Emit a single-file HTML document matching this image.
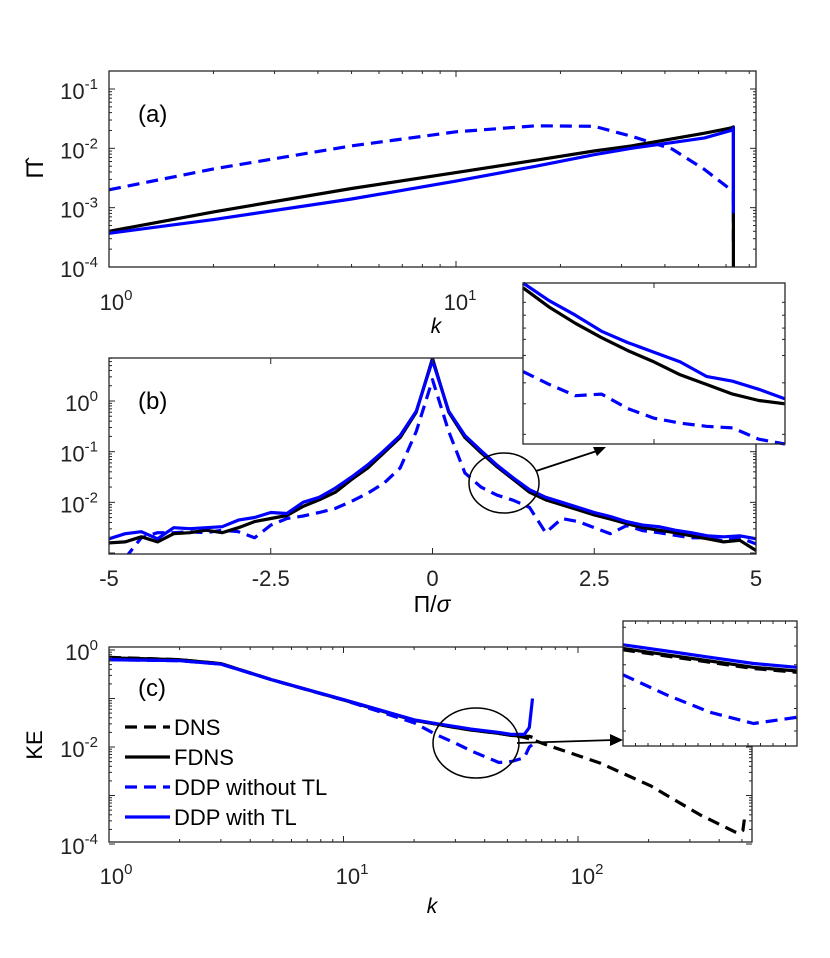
<!DOCTYPE html>
<html><head><meta charset="utf-8"><style>
html,body{margin:0;padding:0;background:#fff;}
svg{display:block;}
text{font-family:"Liberation Sans",sans-serif;}
</style></head><body>
<svg id="fig" width="830" height="958" viewBox="0 0 830 958" xmlns="http://www.w3.org/2000/svg"></svg>
<script>
// ===== Panel (a) data =====
const aK = [1, 2, 5, 10, 17, 25, 32, 42, 52, 62, 63];
const aFDNS = [4e-4, 8.5e-4, 2.1e-3, 3.9e-3, 6.3e-3, 9e-3, 1.1e-2, 1.45e-2, 1.8e-2, 2.2e-2, 2.3e-2];
const aDDPTL = [3.7e-4, 6.3e-4, 1.4e-3, 2.8e-3, 5e-3, 7.8e-3, 1e-2, 1.25e-2, 1.5e-2, 2e-2, 2.2e-2];
const aDDPnoTL = [2e-3, 4.5e-3, 1.1e-2, 1.9e-2, 2.4e-2, 2.35e-2, 1.6e-2, 9.7e-3, 4.4e-3, 2e-3, 1.8e-3];
const aDropK = 63;
const aDropFDNS = 1e-5, aDropTL = 8e-4, aDropNoTL = 2.5e-4;
// ===== Panel (b) data (log10 PDF) =====
const bX = [-5,-4.75,-4.5,-4.25,-4,-3.75,-3.5,-3.25,-3,-2.75,-2.5,-2.25,-2,-1.75,-1.5,-1.25,-1,-0.75,-0.5,-0.25,0,0.25,0.5,0.75,1,1.25,1.5,1.75,2,2.25,2.5,2.75,3,3.25,3.5,3.75,4,4.25,4.5,4.75,5];
const bFDNS = [-2.8,-2.78,-2.68,-2.78,-2.62,-2.6,-2.55,-2.6,-2.5,-2.38,-2.32,-2.26,-2.08,-1.95,-1.8,-1.55,-1.32,-1.02,-0.72,-0.22,0.84,-0.22,-0.72,-1.02,-1.3,-1.55,-1.8,-1.95,-2.05,-2.15,-2.25,-2.33,-2.42,-2.5,-2.55,-2.6,-2.66,-2.72,-2.78,-2.75,-2.95];
const bTL = [-2.72,-2.62,-2.58,-2.72,-2.5,-2.52,-2.5,-2.48,-2.35,-2.3,-2.2,-2.22,-2.0,-1.9,-1.72,-1.5,-1.26,-0.98,-0.68,-0.2,0.8,-0.2,-0.68,-0.98,-1.27,-1.52,-1.75,-1.9,-2.0,-2.1,-2.2,-2.28,-2.38,-2.45,-2.48,-2.55,-2.6,-2.66,-2.68,-2.66,-2.72];
const bNoTL = [-3.3,-3.1,-2.7,-2.6,-2.6,-2.58,-2.6,-2.55,-2.58,-2.7,-2.45,-2.32,-2.27,-2.2,-2.12,-1.98,-1.82,-1.62,-1.32,-0.6,0.42,-0.6,-1.42,-1.7,-1.86,-1.96,-2.1,-2.6,-2.32,-2.38,-2.5,-2.62,-2.46,-2.56,-2.6,-2.65,-2.7,-2.7,-2.76,-2.7,-2.82];
const bXTicks = [-5,-2.5,0,2.5,5];
const bXTickLabels = ["-5","-2.5","0","2.5","5"];
// inset (b)
const biX = [0,0.1,0.2,0.3,0.4,0.5,0.6,0.7,0.8,0.9,1];
const biTL = [0,0.11,0.2,0.3,0.37,0.43,0.49,0.58,0.61,0.66,0.72];
const biFDNS = [0.03,0.15,0.25,0.34,0.42,0.49,0.57,0.63,0.69,0.73,0.75];
const biNoTL = [0.55,0.63,0.7,0.69,0.78,0.84,0.87,0.89,0.9,0.97,1.0];
// ===== Panel (c) data =====
const cK = [1,2,3,5,10,20,25,30,35,46,52,59,62,64];
const cDNS = [-0.15,-0.2,-0.28,-0.62,-1.03,-1.45,-1.53,-1.6,-1.65,-1.72,-1.76,-1.8,-1.83,-1.85];
const cFDNS = [-0.16,-0.2,-0.28,-0.62,-1.03,-1.45,-1.53,-1.6,-1.65,-1.72,-1.76,-1.78,-1.78,-1.8];
const cTL = [-0.2,-0.22,-0.29,-0.62,-1.02,-1.44,-1.52,-1.58,-1.63,-1.7,-1.74,-1.74,-1.6,-1.0];
const cNoTL = [-0.2,-0.22,-0.29,-0.62,-1.03,-1.5,-1.75,-1.92,-2.08,-2.32,-2.3,-2.22,-2.0,-1.95];
const cDNSTailK = [64,78,124,204,332,467,490,505,512,515];
const cDNSTail = [-1.85,-2.0,-2.33,-2.8,-3.4,-3.75,-3.78,-3.72,-3.5,-3.35];
const ciX = [0,0.25,0.5,0.75,1];
const ciTL = [0.19,0.24,0.29,0.34,0.37];
const ciFDNS = [0.22,0.27,0.32,0.37,0.4];
const ciDNS = [0.23,0.28,0.33,0.38,0.41];
const ciNoTL = [0.43,0.59,0.73,0.82,0.77];
const legendLabels = ["DNS","FDNS","DDP without TL","DDP with TL"];

const NS="http://www.w3.org/2000/svg";
const svg=document.getElementById('fig');
function el(tag,attrs,parent){const e=document.createElementNS(NS,tag);for(const k in attrs)e.setAttribute(k,attrs[k]);(parent||svg).appendChild(e);return e;}
const BLUE="#0000ff";
function logScale(d0,d1,p0,p1){return v=>p0+(Math.log10(v)-d0)/(d1-d0)*(p1-p0);}
function linScale(d0,d1,p0,p1){return v=>p0+(v-d0)/(d1-d0)*(p1-p0);}
function pathD(xs,ys,fx,fy){return xs.map((x,i)=>(i?'L':'M')+fx(x).toFixed(1)+' '+fy(ys[i]).toFixed(1)).join(' ');}
function line(d,color,dash,name,parent){
  const p=el('path',{d:d,fill:'none',stroke:color,'stroke-width':3.2,'stroke-dasharray':dash?'12 7':'none','stroke-linejoin':'round'},parent);
  
  
  return p;
}
function supLabel(x,y,base,exp,anchor,name){
  const t=el('text',{x:x,y:y,'font-size':22,'text-anchor':anchor||'middle',fill:'#222'});
  
  
  const a=el('tspan',{},t);a.textContent=base;
  const b=el('tspan',{dy:-10,'font-size':15},t);b.textContent=exp;
  return t;
}
function box(x0,y0,x1,y1,name){
  const r=el('rect',{x:x0,y:y0,width:x1-x0,height:y1-y0,fill:'none',stroke:'#262626','stroke-width':1.3});
  
  
}
function tick(x1,y1,x2,y2){const t=el('line',{x1:x1,y1:y1,x2:x2,y2:y2,stroke:'#262626','stroke-width':1});}
function logYTicks(fy,lo,hi,x0,x1){
  for(let d=lo;d<hi;d++){for(let m=1;m<10;m++){const v=m*Math.pow(10,d);const y=fy(v);const L=m===1?6:3;tick(x0,y,x0+L,y);tick(x1,y,x1-L,y);}}
  const y=fy(Math.pow(10,hi));tick(x0,y,x0+6,y);tick(x1,y,x1-6,y);
}
function logXTicks(fx,lo,hi,xmax,y0,y1){
  for(let d=lo;d<=hi;d++){for(let m=1;m<10;m++){const v=m*Math.pow(10,d);const x=fx(v);if(x>xmax+0.5)break;const L=m===1?6:3;tick(x,y1,x,y1-L);tick(x,y0,x,y0+L);}}
}

// ===== Panel (a) =====
const aX0=109,aX1=756,aY0=71,aY1=267;
const ax=logScale(0,1,109,456), ay=logScale(-4,-1,267,89);
const gA=el('g',{});
logYTicks(ay,-4,-1,aX0,aX1);
logXTicks(ax,0,1,aX1,aY0,aY1);
line(pathD(aK,aDDPnoTL,ax,ay)+' L'+ax(aDropK).toFixed(1)+' '+ay(aDropNoTL).toFixed(1),BLUE,true,'a-ddp-without-tl-line',gA);
line(pathD(aK,aFDNS,ax,ay)+' L'+ax(aDropK).toFixed(1)+' '+aY1,'#000',false,'a-fdns-line',gA);
line(pathD(aK,aDDPTL,ax,ay)+' L'+ax(aDropK).toFixed(1)+' '+ay(aDropTL).toFixed(1),BLUE,false,'a-ddp-with-tl-line',gA);
box(aX0,aY0,aX1,aY1,'a-plot-frame');
['-1','-2','-3','-4'].forEach((e,i)=>supLabel(98,ay(Math.pow(10,-1-i))+10,'10',e,'end','a-y-tick-label'));
supLabel(116,310,'10','0','middle','a-x-tick-label');
supLabel(460,310,'10','1','middle','a-x-tick-label');
{const t=el('text',{x:436,y:333,'font-size':21,'font-family':'Liberation Serif','font-style':'italic','text-anchor':'middle'});t.textContent='k';}
{const t=el('text',{x:0,y:0,'font-size':24,'font-family':'Liberation Serif','text-anchor':'middle',transform:'translate(43,170) rotate(-90)'});t.textContent='Π̂';}
{const t=el('text',{x:138,y:122,'font-size':24});t.textContent='(a)';}

// ===== Panel (b) =====
const bX0=109,bX1=756,bY0=358,bY1=554;
const bx=linScale(-5,5,bX0,bX1), byl=linScale(-3,0,553,401);
const gB=el('g',{});
for(let d=-3;d<1;d++){for(let m=1;m<10;m++){const v=d+Math.log10(m);const y=byl(v);if(y<bY0)break;const L=m===1?6:3;tick(bX0,y,bX0+L,y);tick(bX1,y,bX1-L,y);}}
bXTicks.forEach(v=>{tick(bx(v),bY1,bx(v),bY1-6);tick(bx(v),bY0,bx(v),bY0+6);});
const clipB=el('clipPath',{id:'clipB'});el('rect',{x:bX0,y:bY0,width:bX1-bX0,height:bY1-bY0},clipB);
const gBc=el('g',{'clip-path':'url(#clipB)'},gB);
line(pathD(bX,bNoTL,bx,byl),BLUE,true,'b-ddp-without-tl-line',gBc);
line(pathD(bX,bFDNS,bx,byl),'#000',false,'b-fdns-line',gBc);
line(pathD(bX,bTL,bx,byl),BLUE,false,'b-ddp-with-tl-line',gBc);
box(bX0,bY0,bX1,bY1,'b-plot-frame');
supLabel(98,byl(0)+10,'10','0','end','b-y-tick-label');
supLabel(98,byl(-1)+10,'10','-1','end','b-y-tick-label');
supLabel(98,byl(-2)+10,'10','-2','end','b-y-tick-label');
bXTicks.forEach((v,i)=>{const t=el('text',{x:bx(v),y:586,'font-size':22,'text-anchor':'middle',fill:'#222'});t.textContent=bXTickLabels[i];});
{const t=el('text',{x:432,y:612,'font-size':23,'font-family':'Liberation Serif','text-anchor':'middle'});t.innerHTML='Π/<tspan font-style="italic">σ</tspan>';}
{const t=el('text',{x:138,y:409,'font-size':24});t.textContent='(b)';}
{const e=el('ellipse',{cx:504,cy:483,rx:35,ry:30,fill:'none',stroke:'#000','stroke-width':1.5});}
{const a=el('path',{d:'M536 471 L600 450',stroke:'#000','stroke-width':1.8,fill:'none'});
 const h=el('path',{d:'M606 447 L593 447 L597 456 Z',fill:'#000'});}
const biX0=523,biX1=785,biY0=283,biY1=444;
{const r=el('rect',{x:biX0,y:biY0,width:biX1-biX0,height:biY1-biY0,fill:'#fff',stroke:'none'});}
const bix=linScale(0,1,biX0,biX1), biy=linScale(0,1,biY0,biY1);
const gBi=el('g',{});
line(pathD(biX,biNoTL,bix,biy),BLUE,true,'b-inset-ddp-without-tl',gBi);
line(pathD(biX,biFDNS,bix,biy),'#000',false,'b-inset-fdns',gBi);
line(pathD(biX,biTL,bix,biy),BLUE,false,'b-inset-ddp-with-tl',gBi);
[0.12,0.2,0.28,0.35,0.45,0.62,0.75,0.94].forEach(f=>{tick(biX0,biy(f),biX0+3,biy(f));tick(biX1,biy(f),biX1-3,biy(f));});
tick(654,biY0,654,biY0+5);tick(654,biY1,654,biY1-5);
box(biX0,biY0,biX1,biY1,'b-inset-frame');

// ===== Panel (c) =====
const cX0=109,cX1=752,cY0=647,cY1=842;
const cx=logScale(0,2,109,578), cy=linScale(-4,0,844,650);
const gC=el('g',{});
for(let d=-4;d<0;d++){for(let m=1;m<10;m++){const y=cy(d+Math.log10(m));const L=m===1?6:3;tick(cX0,y,cX0+L,y);tick(cX1,y,cX1-L,y);}}
tick(cX0,cy(0),cX0+6,cy(0));tick(cX1,cy(0),cX1-6,cy(0));
logXTicks(cx,0,2,cX1,cY0,cY1);
line(pathD(cK,cDNS,cx,cy)+' '+pathD(cDNSTailK,cDNSTail,cx,cy).replace('M','L'),'#000',true,'c-dns-line',gC);
line(pathD(cK,cFDNS,cx,cy),'#000',false,'c-fdns-line',gC);
line(pathD(cK,cNoTL,cx,cy),BLUE,true,'c-ddp-without-tl-line',gC);
line(pathD(cK,cTL,cx,cy),BLUE,false,'c-ddp-with-tl-line',gC);
box(cX0,cY0,cX1,cY1,'c-plot-frame');
supLabel(98,cy(0)+10,'10','0','end','c-y-tick-label');
supLabel(98,cy(-2)+10,'10','-2','end','c-y-tick-label');
supLabel(98,cy(-4)+10,'10','-4','end','c-y-tick-label');
supLabel(116,884,'10','0','middle','c-x-tick-label');
supLabel(352,884,'10','1','middle','c-x-tick-label');
supLabel(587,884,'10','2','middle','c-x-tick-label');
{const t=el('text',{x:432,y:913,'font-size':21,'font-family':'Liberation Serif','font-style':'italic','text-anchor':'middle'});t.textContent='k';}
{const t=el('text',{x:0,y:0,'font-size':22,'font-family':'Liberation Serif','text-anchor':'middle',transform:'translate(42,745) rotate(-90)'});t.textContent='KE';}
{const t=el('text',{x:138,y:696,'font-size':24});t.textContent='(c)';}
const legStyles=[['#000',true],['#000',false],[BLUE,true],[BLUE,false]];
legendLabels.forEach((lab,i)=>{
  const y=727+i*30;
  const g=el('g',{});
  const l=el('line',{x1:125,y1:y,x2:170,y2:y,stroke:legStyles[i][0],'stroke-width':3.2,'stroke-dasharray':legStyles[i][1]?'12 7':'none'},g);
  
  const t=el('text',{x:174,y:y+8,'font-size':22,fill:'#000'},g);t.textContent=lab;
  
});
{const e=el('ellipse',{cx:476,cy:743,rx:43,ry:35,fill:'none',stroke:'#000','stroke-width':1.5});}
{const a=el('path',{d:'M517 743 L614 740',stroke:'#000','stroke-width':1.8,fill:'none'});
 const h=el('path',{d:'M623 740 L610 734 L610 746 Z',fill:'#000'});}
const ciX0=623,ciX1=797,ciY0=621,ciY1=746;
{const r=el('rect',{x:ciX0,y:ciY0,width:ciX1-ciX0,height:ciY1-ciY0,fill:'#fff',stroke:'none'});}
const cix=linScale(0,1,ciX0,ciX1), ciy=linScale(0,1,ciY0,ciY1);
const gCi=el('g',{});
line(pathD(ciX,ciNoTL,cix,ciy),BLUE,true,'c-inset-ddp-without-tl',gCi);
line(pathD(ciX,ciDNS,cix,ciy),'#000',true,'c-inset-dns',gCi);
line(pathD(ciX,ciFDNS,cix,ciy),'#000',false,'c-inset-fdns',gCi);
line(pathD(ciX,ciTL,cix,ciy),BLUE,false,'c-inset-ddp-with-tl',gCi);
for(let i=1;i<14;i++){const x=ciX0+i*12.5;tick(x,ciY0,x,ciY0+3);tick(x,ciY1,x,ciY1-3);}
[0.05,0.2,0.35,0.52,0.7,0.88].forEach(f=>{tick(ciX0,ciy(f),ciX0+3,ciy(f));tick(ciX1,ciy(f),ciX1-3,ciy(f));});
box(ciX0,ciY0,ciX1,ciY1,'c-inset-frame');
</script>
</body></html>
